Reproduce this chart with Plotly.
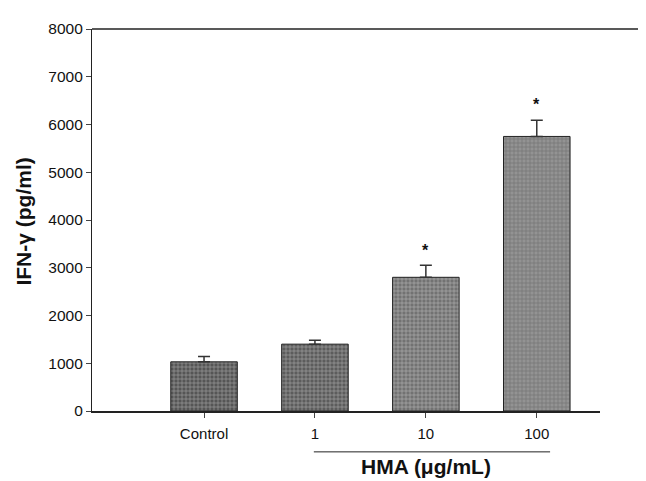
import plotly.graph_objects as go

categories = ["Control", "1", "10", "100"]
values = [1030, 1400, 2800, 5750]
errors = [110, 80, 250, 340]
stars = ["", "", "*", "*"]
colors = ["#555555", "#5c5c5c", "#727272", "#939393"]

xpos = list(range(len(categories)))

fig = go.Figure()
fig.add_trace(go.Bar(
    x=xpos, y=values, width=0.6,
    marker=dict(color=colors, line=dict(color="#222222", width=1),
                pattern=dict(shape="+", fgcolor="#d4d4d4", size=4, solidity=0.25)),
    error_y=dict(type="data", symmetric=False, array=errors,
                 arrayminus=[0] * len(errors), color="#333333", thickness=1.5, width=6),
    showlegend=False,
))

for x, v, e, s in zip(xpos, values, errors, stars):
    if s:
        fig.add_annotation(x=x, y=v + e + 320, text="<b>*</b>", showarrow=False,
                           font=dict(size=16, color="#111111", family="Liberation Sans, Arial"),
                           yanchor="middle")

font = dict(family="Liberation Sans, Arial, sans-serif", color="#111111", size=15)

fig.update_layout(
    width=646, height=481,
    margin=dict(l=84, r=54, t=12, b=78),
    paper_bgcolor="white", plot_bgcolor="white",
    font=font,
    bargap=0.4,
    xaxis=dict(range=[-1.01, 3.57], tickvals=xpos, ticktext=categories,
               showline=True, linecolor="#222222", linewidth=1.5,
               ticks="outside", ticklen=5, tickcolor="#444444", showgrid=False,
               zeroline=False, tickfont=dict(size=15), ticklabelstandoff=3),
    yaxis=dict(range=[0, 8000], tickvals=list(range(0, 8001, 1000)),
               showline=True, linecolor="#222222", linewidth=1.2,
               ticks="outside", ticklen=5, tickcolor="#444444", showgrid=False,
               zeroline=False, tickfont=dict(size=15.5)),
)

# top border line extending to the right edge
fig.add_shape(type="line", xref="paper", yref="paper", x0=0, x1=1.12, y0=1, y1=1,
              line=dict(color="#222222", width=1.3))
# bar under HMA dose labels
fig.add_shape(type="line", xref="x", yref="paper", x0=0.99, x1=3.12, y0=-0.107, y1=-0.107,
              line=dict(color="#222222", width=1))

fig.add_annotation(xref="x", yref="paper", x=2.0, y=-0.145, text="<b>HMA (μg/mL)</b>",
                   showarrow=False, font=dict(size=21, color="#111111"), yanchor="middle")
fig.add_annotation(xref="paper", yref="paper", x=-0.135, y=0.497, text="<b>IFN-γ (pg/ml)</b>",
                   showarrow=False, textangle=-90, font=dict(size=21, color="#111111"),
                   xanchor="center", yanchor="middle")

fig.write_html("out.html")
